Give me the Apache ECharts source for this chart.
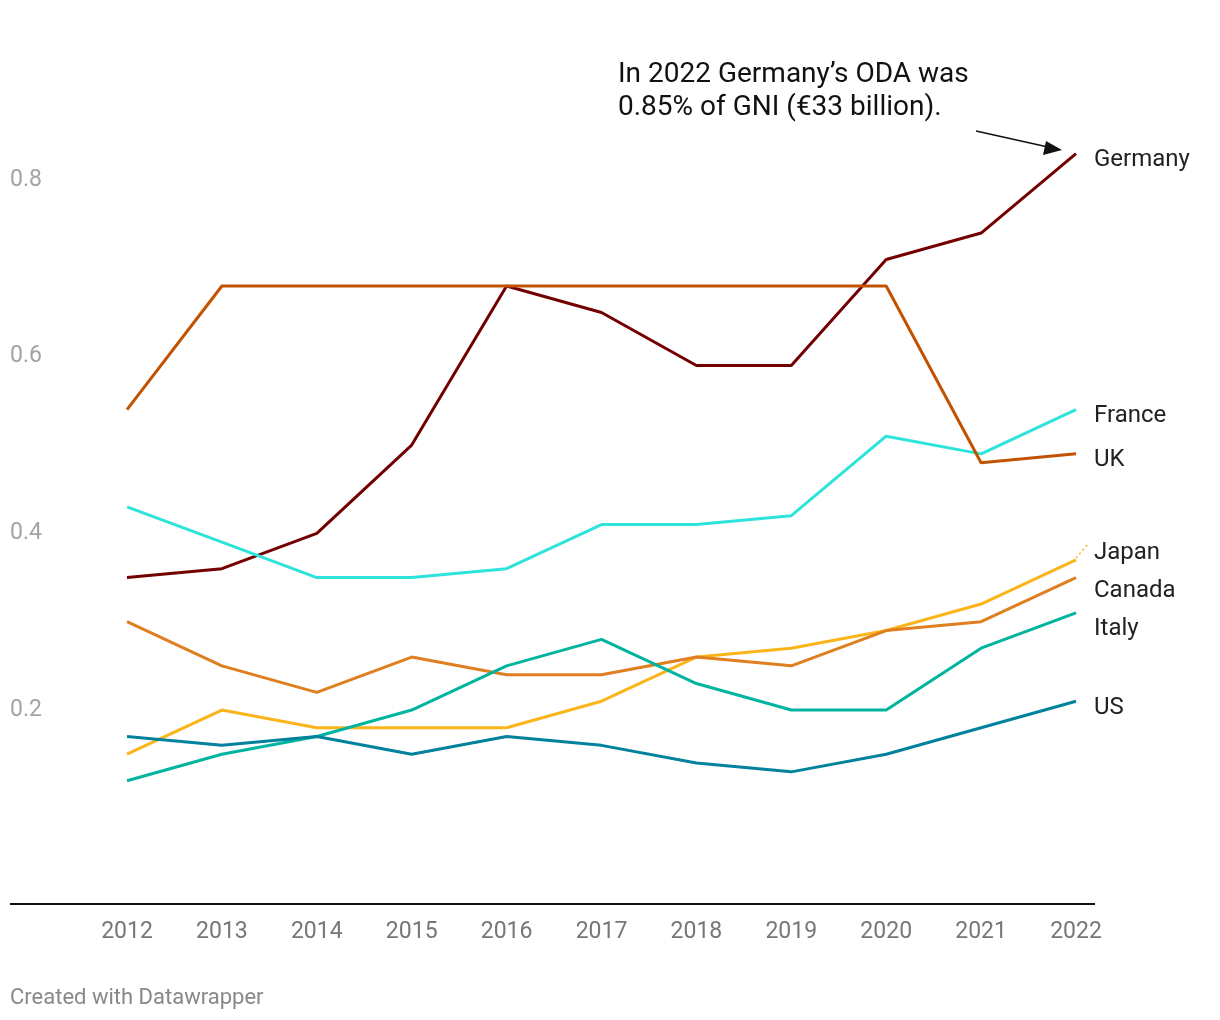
<!DOCTYPE html>
<html><head><meta charset="utf-8">
<script src="https://cdn.jsdelivr.net/npm/echarts@6/dist/echarts.min.js"></script>
<style>html,body{margin:0;padding:0;background:#fff}#c{width:1220px;height:1020px}</style>
</head><body><div id="c"></div>
<script>
const years = ['2012','2013','2014','2015','2016','2017','2018','2019','2020','2021','2022'];
const germany = [0.35,0.36,0.40,0.50,0.68,0.65,0.59,0.59,0.71,0.74,0.83];
const uk      = [0.54,0.68,0.68,0.68,0.68,0.68,0.68,0.68,0.68,0.48,0.49];
const france  = [0.43,0.39,0.35,0.35,0.36,0.41,0.41,0.42,0.51,0.49,0.54];
const japan   = [0.15,0.20,0.18,0.18,0.18,0.21,0.26,0.27,0.29,0.32,0.37];
const canada  = [0.30,0.25,0.22,0.26,0.24,0.24,0.26,0.25,0.29,0.30,0.35];
const italy   = [0.12,0.15,0.17,0.20,0.25,0.28,0.23,0.20,0.20,0.27,0.31];
const us      = [0.17,0.16,0.17,0.15,0.17,0.16,0.14,0.13,0.15,0.18,0.21];
const yTicks = [0.2,0.4,0.6,0.8];

const defs = [
  ['Germany', germany, '#730000', [0,6]],
  ['France', france, '#2ee3da', [0,6]],
  ['UK', uk, '#c15300', [0,6]],
  ['Japan', japan, '#fbb51b', [0,-7]],
  ['Canada', canada, '#df7f20', [0,13]],
  ['Italy', italy, '#00b4a0', [0,16]],
  ['US', us, '#00829c', [0,7]]
];
const chart = echarts.init(document.getElementById('c'));
chart.setOption({
  animation:false,
  textStyle:{fontFamily:'Roboto'},
  grid:{left:127,right:144,top:91.7,bottom:133.3},
  xAxis:{type:'category',data:years,boundaryGap:false,offset:17.7,
    axisLine:{show:false},axisTick:{show:false},
    axisLabel:{color:'#777',fontSize:23,margin:16,fontFamily:'Roboto'}},
  yAxis:{type:'value',min:0,max:0.9,interval:0.2,splitLine:{show:false},
    axisLine:{show:false},axisTick:{show:false},
    axisLabel:{color:'#a3a3a3',fontSize:23,align:'left',margin:117,showMaxLabel:false,padding:[4,0,0,0],
      formatter:v=>yTicks.some(t=>Math.abs(t-v)<1e-6)?String(v):''}},
  series: defs.map(([name,data,color,off])=>({
    name,type:'line',data,symbol:'none',
    lineStyle:{color,width:3},
    endLabel:{show:true,formatter:name,color:'#222',fontSize:24,distance:18,offset:off,fontFamily:'Roboto'}
  })),
  graphic:[
    {type:'line',shape:{x1:10,y1:904,x2:1095,y2:904},style:{stroke:'#111',lineWidth:2}},
    {type:'text',left:618,top:58,style:{text:'In 2022 Germany’s ODA was\n0.85% of GNI (€33 billion).',fontSize:28,lineHeight:33,fill:'#111',fontFamily:'Roboto'}},
    {type:'line',shape:{x1:976,y1:131,x2:1048,y2:147},style:{stroke:'#111',lineWidth:1.5}},
    {type:'polygon',shape:{points:[[1062,150],[1043,155],[1046,141]]},style:{fill:'#111'}},
    {type:'line',shape:{x1:1076,y1:558,x2:1088,y2:544},style:{stroke:'#fbb51b',lineWidth:1.5,lineDash:[2,3]}},
    {type:'text',left:10,top:987,style:{text:'Created with Datawrapper',fontSize:22,fill:'#888',fontFamily:'Roboto'}}
  ]
});
</script></body></html>
